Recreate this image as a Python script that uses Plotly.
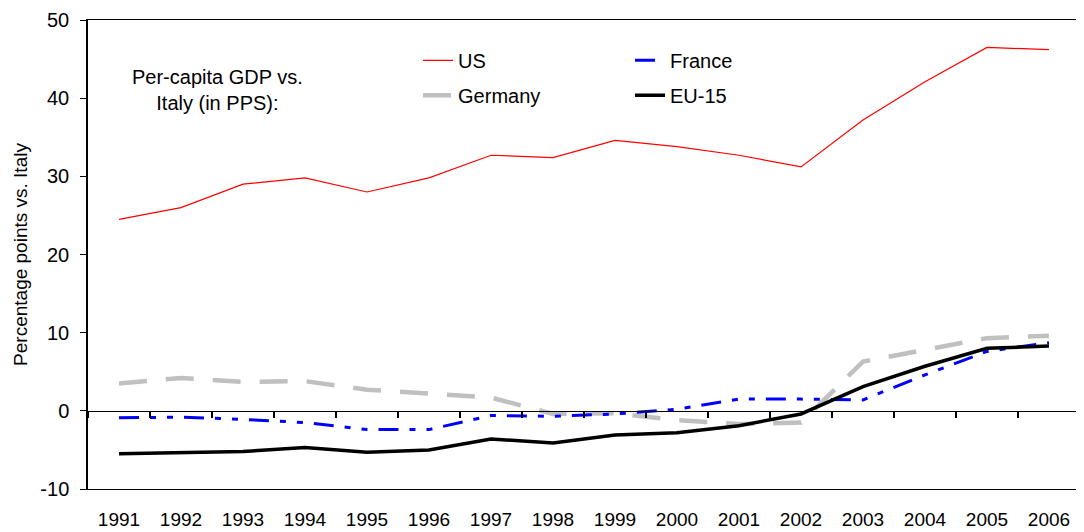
import plotly.graph_objects as go

years = [str(y) for y in range(1991, 2007)]
us = [24.5, 26.0, 29.0, 29.8, 28.0, 29.8, 32.7, 32.4, 34.6, 33.8, 32.7, 31.2, 37.2, 42.1, 46.5, 46.2]
france = [-0.9, -0.8, -1.1, -1.5, -2.4, -2.4, -0.6, -0.7, -0.4, 0.2, 1.5, 1.5, 1.4, 4.6, 7.6, 8.7]
germany = [3.5, 4.2, 3.7, 3.8, 2.7, 2.2, 1.7, -0.4, -0.3, -1.2, -1.7, -1.5, 6.3, 7.8, 9.3, 9.6]
eu15 = [-5.5, -5.4, -5.2, -4.7, -5.3, -5.0, -3.6, -4.1, -3.1, -2.8, -1.9, -0.4, 3.1, 5.7, 8.0, 8.3]
y_ticks = [-10, 0, 10, 20, 30, 40, 50]
y_ticktext = ["-10", "0", "10", "20", "30", "40", "50"]

FONT = "Liberation Sans, Arial, sans-serif"

fig = go.Figure()
fig.add_trace(go.Scatter(x=years, y=us, name="US", mode="lines",
                         line=dict(color="#FF0000", width=1.2),
                         legend="legend", legendgroup="us"))
fig.add_trace(go.Scatter(x=years, y=germany, name="Germany", mode="lines",
                         line=dict(color="#C0C0C0", width=4.5, dash="28px,19px"),
                         legend="legend", legendgroup="de"))
fig.add_trace(go.Scatter(x=years, y=france, name="France", mode="lines",
                         line=dict(color="#0000FF", width=3, dash="20px,11px,6px,11px,6px,11px"),
                         legend="legend2", legendgroup="fr"))
fig.add_trace(go.Scatter(x=years, y=eu15, name="EU-15", mode="lines",
                         line=dict(color="#000000", width=3.5),
                         legend="legend2", legendgroup="eu"))
# invisible helper trace to activate the zero-line axis with ticks
fig.add_trace(go.Scatter(x=years, y=eu15, xaxis="x2", yaxis="y", mode="lines",
                         line=dict(width=0), opacity=0, showlegend=False, hoverinfo="skip"))

xrange = [-0.5, len(years) - 0.5]

fig.update_layout(
    width=1076, height=524,
    margin=dict(l=80, r=4, t=12, b=43, autoexpand=False),
    paper_bgcolor="white", plot_bgcolor="white",
    font=dict(family=FONT, size=19, color="black"),
    xaxis=dict(type="category", range=xrange, showgrid=False, showline=True, linecolor="black",
               linewidth=1, mirror=True, ticks="", ticklabelstandoff=13, zeroline=False,
               tickfont=dict(size=19), automargin=False),
    xaxis2=dict(type="category", range=xrange, overlaying="x", anchor="free", position=1/6,
                side="bottom", showgrid=False, showline=True, linecolor="black", linewidth=1,
                ticks="outside", tickson="boundaries", ticklen=6, tickwidth=1.5,
                tickcolor="black", showticklabels=False, zeroline=False, automargin=False),
    yaxis=dict(range=[-10, 50], tickvals=y_ticks, ticktext=y_ticktext, showgrid=False,
               zeroline=False, showline=True, linecolor="black", linewidth=1.5, mirror=True,
               ticks="outside", ticklen=6, tickcolor="black", tickfont=dict(size=20),
               ticklabelstandoff=7, automargin=False,
               title=dict(text="Percentage points vs. Italy", font=dict(size=19), standoff=8)),
    legend=dict(x=0.3327, y=0.9556, xanchor="left", yanchor="top", bgcolor="rgba(0,0,0,0)",
                font=dict(size=20), tracegroupgap=6, itemwidth=30),
    legend2=dict(x=0.5464, y=0.9556, xanchor="left", yanchor="top", bgcolor="rgba(0,0,0,0)",
                 font=dict(size=20), tracegroupgap=6, itemwidth=30),
    annotations=[dict(text="Per-capita GDP vs.<br>Italy (in PPS):", xref="paper", yref="paper",
                      x=0.131, y=0.851, xanchor="center", yanchor="middle", showarrow=False,
                      align="center", font=dict(size=20))],
    showlegend=True,
)

fig.write_html("out.html")
